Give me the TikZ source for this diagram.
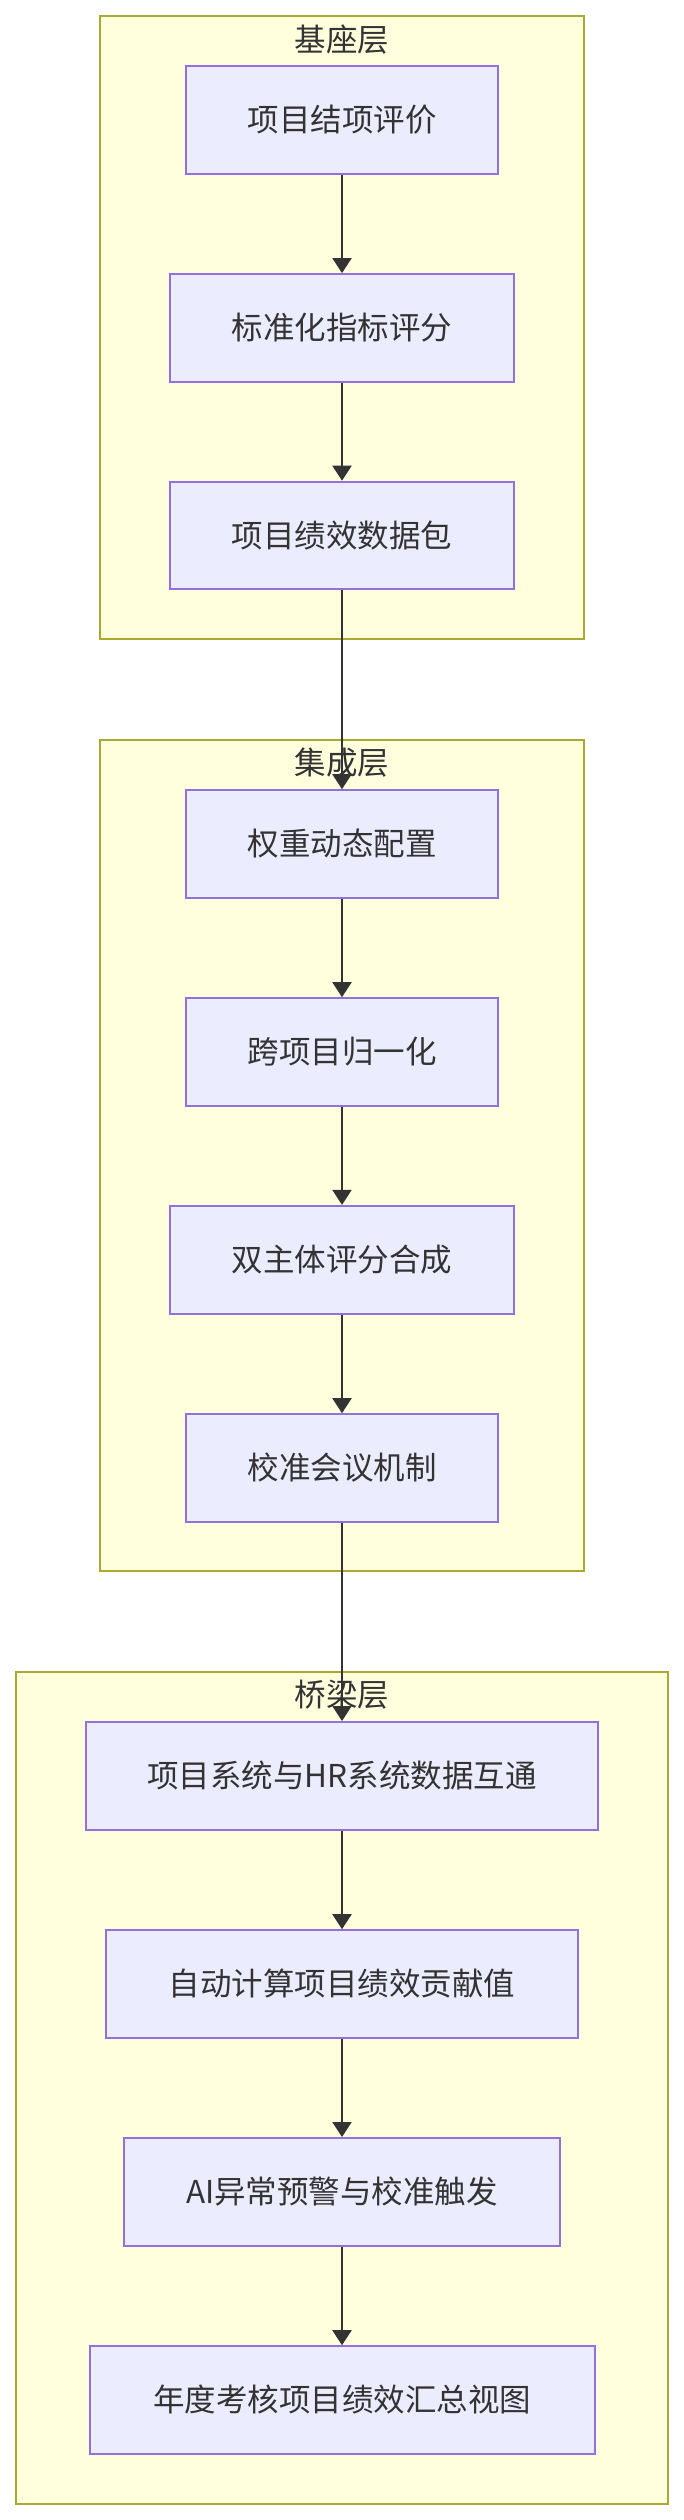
\documentclass[tikz,border=0pt]{standalone}
\usepackage{fontspec}
\setmainfont{Noto Sans CJK SC}
\usetikzlibrary{arrows.meta}
\definecolor{clfill}{HTML}{FFFFDE}
\definecolor{clline}{HTML}{AAAA33}
\definecolor{ndfill}{HTML}{ECECFF}
\definecolor{ndline}{HTML}{9370DB}
\definecolor{ink}{HTML}{333333}
\tikzset{
  cluster/.style={draw=clline, fill=clfill, line width=2pt},
  ctitle/.style={inner sep=0pt, text=ink, font=\fontsize{31.5}{36}\selectfont, text height=27.7pt, text depth=3.8pt},
  box/.style={draw=ndline, fill=ndfill, line width=2pt, minimum height=107.6pt, inner sep=0pt, text=ink,
    font=\fontsize{31.5}{36}\selectfont, text height=27.7pt, text depth=3.8pt},
  flow/.style={draw=ink, line width=2pt, -{Triangle[width=19pt,length=15pt]}}
}
\begin{document}
\begin{tikzpicture}[x=1pt,y=-1pt]
\useasboundingbox (0,0) rectangle (683,2520);
% clusters
\draw[cluster] (100,16) rectangle (583.6,639);
\node[ctitle] (t1) at (342,40) {基座层};
\draw[cluster] (100,740) rectangle (583.6,1571);
\node[ctitle] (t2) at (342,763) {集成层};
\draw[cluster] (15.7,1672) rectangle (667.7,2503.7);
\node[ctitle] (t3) at (342,1695) {桥梁层};
% nodes
\node[box, minimum width=312pt] (n1) at (342,119.8) {项目结项评价};
\node[box, minimum width=344pt] (n2) at (342,327.9) {标准化指标评分};
\node[box, minimum width=344pt] (n3) at (342,535.5) {项目绩效数据包};
\node[box, minimum width=312pt] (n4) at (342,844) {权重动态配置};
\node[box, minimum width=312pt] (n5) at (342,1052) {跨项目归一化};
\node[box, minimum width=344pt] (n6) at (342,1259.7) {双主体评分合成};
\node[box, minimum width=312pt] (n7) at (342,1468) {校准会议机制};
\node[box, minimum width=512pt] (n8) at (342,1775.8) {项目系统与HR系统数据互通};
\node[box, minimum width=472pt] (n9) at (342,1984) {自动计算项目绩效贡献值};
\node[box, minimum width=436pt] (n10) at (342,2191.8) {AI异常预警与校准触发};
\node[box, minimum width=505pt] (n11) at (342,2400) {年度考核项目绩效汇总视图};
% edges
\draw[flow] (n1) -- (n2);
\draw[flow] (n2) -- (n3);
\draw[flow] (n3) -- (n4);
\draw[flow] (n4) -- (n5);
\draw[flow] (n5) -- (n6);
\draw[flow] (n6) -- (n7);
\draw[flow] (n7) -- (n8);
\draw[flow] (n8) -- (n9);
\draw[flow] (n9) -- (n10);
\draw[flow] (n10) -- (n11);
\end{tikzpicture}
\end{document}
